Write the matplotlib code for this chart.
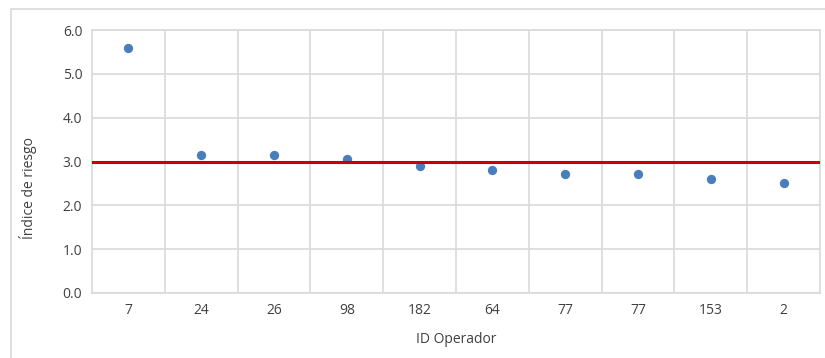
import matplotlib.pyplot as plt
from matplotlib.patches import Rectangle

operadores = ['7', '24', '26', '98', '182', '64', '77', '77', '153', '2']
indice = [5.60, 3.14, 3.14, 3.05, 2.90, 2.81, 2.72, 2.72, 2.59, 2.50]
umbral = 3.0

plt.rcParams['font.family'] = ['Open Sans', 'DejaVu Sans']

fig = plt.figure(figsize=(8.25, 3.58), dpi=100)
fig.patches.append(Rectangle((11/825, -0.1), 1.2, 1 - 9/358 + 0.1, transform=fig.transFigure,
                             fill=False, edgecolor='#d9d9d9', linewidth=1.2))
ax = fig.add_axes([92/825, 1 - 293/358, (820 - 92)/825, (293 - 30)/358])

x = list(range(len(operadores)))
ax.scatter(x, indice, s=45, color='#4a7ebb', zorder=3, linewidths=0)
ax.axhline(umbral, color='#c80000', linewidth=2.2, zorder=4)

ax.set_xlim(-0.5, len(operadores) - 0.5)
ax.set_ylim(0, 6)
ax.set_yticks([0, 1, 2, 3, 4, 5, 6])
ax.set_yticklabels([f'{v:.1f}' for v in range(7)])
ax.set_xticks(x)
ax.set_xticklabels(operadores)
ax.set_xticks([i + 0.5 for i in range(len(operadores) - 1)], minor=True)

ax.grid(True, axis='y', color='#d9d9d9', linewidth=1.2)
ax.grid(True, axis='x', which='minor', color='#d9d9d9', linewidth=1.2)
ax.set_axisbelow(True)
for s in ax.spines.values():
    s.set_color('#d9d9d9')
    s.set_linewidth(1.2)

ax.tick_params(which='both', length=0, labelsize=10, colors='#404040', pad=7)
ax.set_xlabel('ID Operador', fontsize=10, color='#404040', labelpad=10)
ax.set_ylabel('Índice de riesgo', fontsize=10, color='#404040')
ax.yaxis.set_label_coords(-0.075, 0.40)

fig.savefig('out.png', dpi=100)
